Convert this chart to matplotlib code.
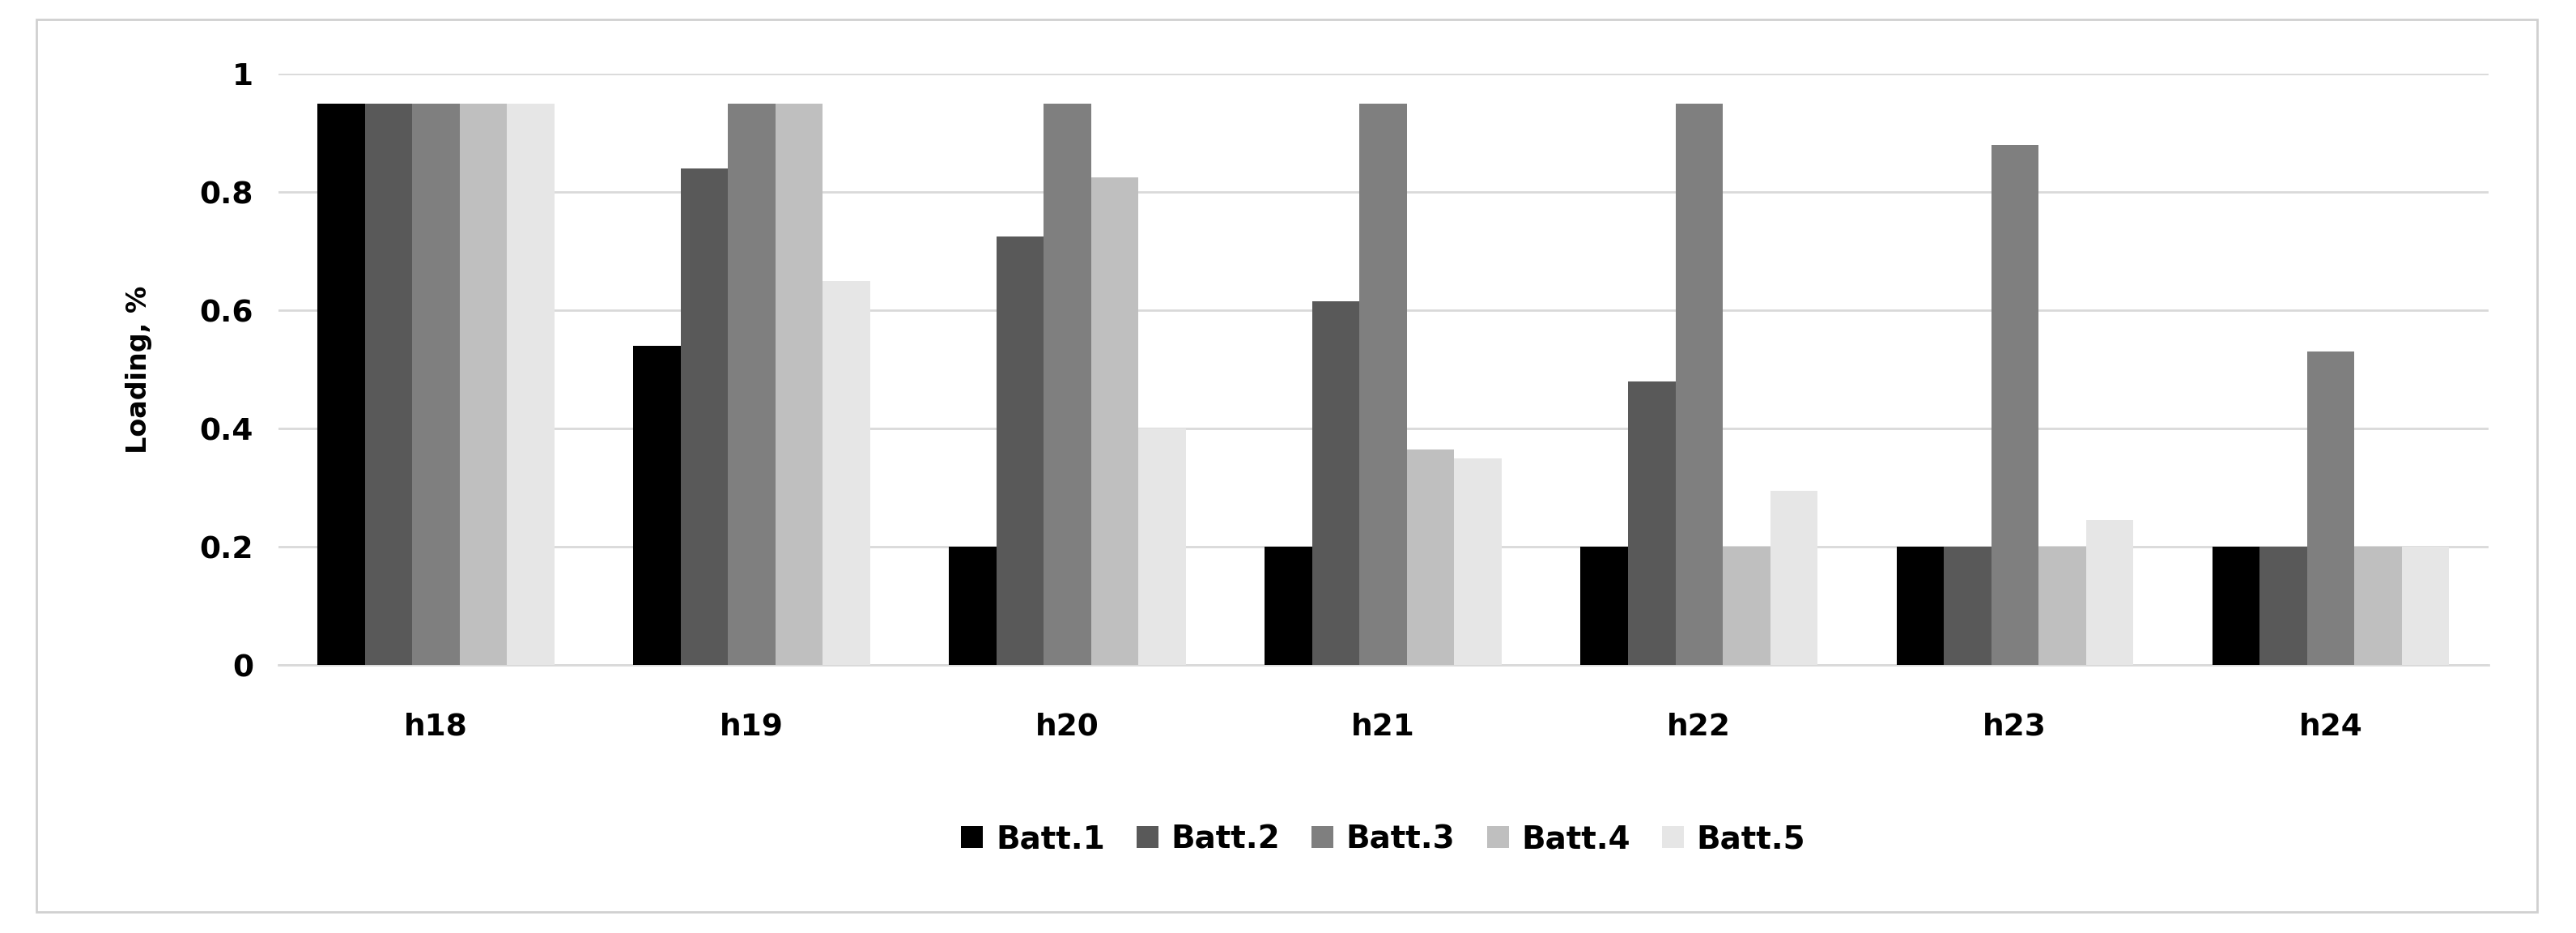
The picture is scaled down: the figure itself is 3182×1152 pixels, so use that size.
import numpy as np
import matplotlib.pyplot as plt
from matplotlib.patches import Rectangle

hours = ["h18", "h19", "h20", "h21", "h22", "h23", "h24"]
series = ["Batt.1", "Batt.2", "Batt.3", "Batt.4", "Batt.5"]
batt1 = [0.95, 0.54, 0.20, 0.20, 0.20, 0.20, 0.20]
batt2 = [0.95, 0.84, 0.725, 0.615, 0.48, 0.20, 0.20]
batt3 = [0.95, 0.95, 0.95, 0.95, 0.95, 0.88, 0.53]
batt4 = [0.95, 0.95, 0.825, 0.365, 0.20, 0.20, 0.20]
batt5 = [0.95, 0.65, 0.40, 0.35, 0.295, 0.245, 0.20]
values = [batt1, batt2, batt3, batt4, batt5]
colors = ["#000000", "#595959", "#7f7f7f", "#bfbfbf", "#e6e6e6"]

fig = plt.figure(figsize=(31.82, 11.52), dpi=100)
fig.patches.append(Rectangle((0.014, 0.023), 0.971, 0.956, transform=fig.transFigure,
                             fill=False, edgecolor="#d0d0d0", linewidth=2))
ax = fig.add_axes([0.108, 0.287, 0.858, 0.634])

x = np.arange(len(hours))
w = 0.15
for i, (name, vals) in enumerate(zip(series, values)):
    ax.bar(x + (i - 2) * w, vals, w, color=colors[i], label=name, zorder=3)

ax.set_ylim(0, 1)
ax.set_xlim(-0.5, len(hours) - 0.5)
ax.set_yticks([0, 0.2, 0.4, 0.6, 0.8, 1])
ax.set_yticklabels(["0", "0.2", "0.4", "0.6", "0.8", "1"])
ax.set_xticks(x)
ax.set_xticklabels(hours)
ax.yaxis.grid(True, color="#d9d9d9", linewidth=2, zorder=0)
for s in ["top", "right", "left"]:
    ax.spines[s].set_visible(False)
ax.spines["bottom"].set_color("#d9d9d9")
ax.spines["bottom"].set_linewidth(2)
ax.tick_params(length=0, labelsize=27, pad=22)
ax.tick_params(axis="x", pad=42)
for t in ax.get_xticklabels() + ax.get_yticklabels():
    t.set_fontweight("bold")
ax.set_ylabel("Loading, %", fontsize=24, fontweight="bold", labelpad=42)

ax.legend(loc="upper center", bbox_to_anchor=(0.5, -0.22), ncol=5, frameon=False,
          prop={"size": 28, "weight": "bold"}, handlelength=0.7, handleheight=0.7,
          columnspacing=1.0, handletextpad=0.4)

fig.savefig("out.png", dpi=100)
